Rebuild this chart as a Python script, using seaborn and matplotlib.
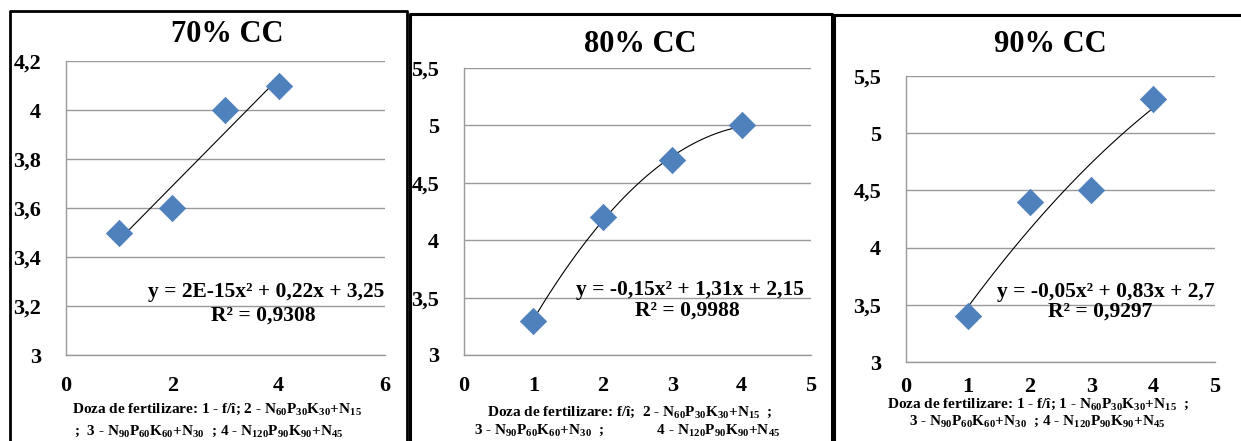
import numpy as np
import pandas as pd
import matplotlib
matplotlib.use("Agg")
import matplotlib.pyplot as plt
from matplotlib.lines import Line2D
import seaborn as sns

# date
doza = [1, 2, 3, 4]
y_70 = [3.5, 3.6, 4.0, 4.1]
y_80 = [3.3, 4.2, 4.7, 5.0]
y_90 = [3.4, 4.4, 4.5, 5.3]

# coeficientii liniei de trend (a*x^2 + b*x + c), din ecuatiile afisate
trend_70 = [0.0, 0.22, 3.25]
trend_80 = [-0.15, 1.31, 2.15]
trend_90 = [-0.05, 0.83, 2.7]

# gradatiile axelor
xt_70 = [0, 2, 4, 6]
xt_80 = [0, 1, 2, 3, 4, 5]
xt_90 = [0, 1, 2, 3, 4, 5]
yt_70 = [3, 3.2, 3.4, 3.6, 3.8, 4, 4.2]
yt_80 = [3, 3.5, 4, 4.5, 5, 5.5]
yt_90 = [3, 3.5, 4, 4.5, 5, 5.5]

titluri = ["70% CC", "80% CC", "90% CC"]
ecuatii = ["y = 2E-15x² + 0,22x + 3,25", "y = -0,15x² + 1,31x + 2,15", "y = -0,05x² + 0,83x + 2,7"]
r2 = ["R² = 0,9308", "R² = 0,9988", "R² = 0,9297"]

xlab1 = [r"Doza de fertilizare: 1 - f/î; 2 - N$_{60}$P$_{30}$K$_{30}$+N$_{15}$",
         r"Doza de fertilizare: f/î;  2 - N$_{60}$P$_{30}$K$_{30}$+N$_{15}$  ;",
         r"Doza de fertilizare: 1 - f/î; 1 - N$_{60}$P$_{30}$K$_{30}$+N$_{15}$  ;"]
xlab2 = [r";  3 - N$_{90}$P$_{60}$K$_{60}$+N$_{30}$  ; 4 - N$_{120}$P$_{90}$K$_{90}$+N$_{45}$",
         r"3 - N$_{90}$P$_{60}$K$_{60}$+N$_{30}$  ;              4 - N$_{120}$P$_{90}$K$_{90}$+N$_{45}$",
         r"3 - N$_{90}$P$_{60}$K$_{60}$+N$_{30}$  ; 4 - N$_{120}$P$_{90}$K$_{90}$+N$_{45}$"]

sns.set_style("white")
plt.rcParams['font.family'] = ['Liberation Serif', 'DejaVu Serif']
plt.rcParams['font.weight'] = 'bold'
plt.rcParams['text.color'] = 'black'
plt.rcParams['xtick.labelcolor'] = 'black'
plt.rcParams['ytick.labelcolor'] = 'black'
plt.rcParams['mathtext.fontset'] = 'custom'
plt.rcParams['mathtext.rm'] = 'Liberation Serif:bold'
plt.rcParams['mathtext.bf'] = 'Liberation Serif:bold'
plt.rcParams['mathtext.it'] = 'Liberation Serif:bold'
plt.rcParams['mathtext.default'] = 'bf'

W, H = 1241, 441
fig = plt.figure(figsize=(W / 100, H / 100), dpi=100)
fig.patch.set_facecolor("white")

def box(l, t, r, b):
    return [l / W, 1 - b / H, (r - l) / W, (b - t) / H]

# pozitii (pixeli): stanga, sus, dreapta, jos ale zonei de desen
zone = [(66, 61, 385, 355), (464, 68, 811, 355), (906, 76, 1215, 362)]
xpads = [11, 11, 7]
eq_pos = [(266, 292, 263, 316), (690, 290, 687, 311), (1106, 292, 1100, 312)]
lab_pos = [(217, 409, 209, 431), (630, 412, 627, 430), (1038, 404, 1037, 421)]
titlu_pos = [(227, 34), (640, 44), (1050, 45)]

serii = [y_70, y_80, y_90]
trenduri = [trend_70, trend_80, trend_90]
xticks = [xt_70, xt_80, xt_90]
yticks = [yt_70, yt_80, yt_90]

def fmt(v):
    return f"{v:g}".replace(".", ",")

for i in range(3):
    ax = fig.add_axes(box(*zone[i]))
    df = pd.DataFrame({"x": doza, "y": serii[i]})
    a, b, c = trenduri[i]
    xt = np.linspace(doza[0], doza[-1], 100)
    dft = pd.DataFrame({"x": xt, "y": a * xt ** 2 + b * xt + c})
    sns.lineplot(data=dft, x="x", y="y", ax=ax, color="black", lw=0.8, zorder=3)
    sns.scatterplot(data=df, x="x", y="y", ax=ax, marker="D", s=180,
                    color="#4F81BD", edgecolor="#4A7EBB", linewidth=0.5, zorder=4)
    ax.set_xticks(xticks[i], labels=[fmt(v) for v in xticks[i]], fontweight="bold")
    ax.set_yticks(yticks[i], labels=[fmt(v) for v in yticks[i]], fontweight="bold")
    ax.set_xlim(xticks[i][0], xticks[i][-1])
    ax.set_ylim(yticks[i][0], yticks[i][-1])
    ax.grid(axis="y", color="#9a9a9a", lw=1)
    ax.set_axisbelow(True)
    for sp in ["top", "right"]:
        ax.spines[sp].set_visible(False)
    for sp in ["left", "bottom"]:
        ax.spines[sp].set_color("#9a9a9a")
        ax.spines[sp].set_linewidth(1)
    ax.tick_params(axis="y", length=7, color="#9a9a9a", labelcolor="black", pad=11, labelsize=16)
    ax.tick_params(axis="x", length=4, color="#9a9a9a", labelcolor="black", pad=xpads[i], labelsize=16)
    ax.set_xlabel("")
    ax.set_ylabel("")
    ax.set_facecolor("none")

    ex, ey, rx, ry = eq_pos[i]
    fig.text(ex / W, 1 - ey / H, ecuatii[i], ha="center", va="center",
             fontsize=15.5, fontweight="bold", color="black")
    fig.text(rx / W, 1 - ry / H, r2[i], ha="center", va="center",
             fontsize=15.5, fontweight="bold", color="black")
    l1x, l1y, l2x, l2y = lab_pos[i]
    fig.text(l1x / W, 1 - l1y / H, xlab1[i], ha="center", va="center",
             fontsize=11, fontweight="bold", color="black")
    fig.text(l2x / W, 1 - l2y / H, xlab2[i], ha="center", va="center",
             fontsize=11, fontweight="bold", color="black")
    tx, ty = titlu_pos[i]
    fig.text(tx / W, 1 - ty / H, titluri[i], ha="center", va="center",
             fontsize=22, fontweight="bold", color="black")

# chenarele negre ale celor trei grafice
def linie(xs, ys, lw):
    fig.add_artist(Line2D([x / W for x in xs], [1 - y / H for y in ys],
                          color="black", lw=lw, solid_capstyle="projecting"))

linie([10, 10, 407, 407], [445, 11, 11, 445], 2.0)
linie([410, 410, 832, 832], [445, 14, 14, 445], 2.2)
linie([834, 834, 1245], [445, 15, 15], 2.2)

fig.savefig("out.png", dpi=100)
